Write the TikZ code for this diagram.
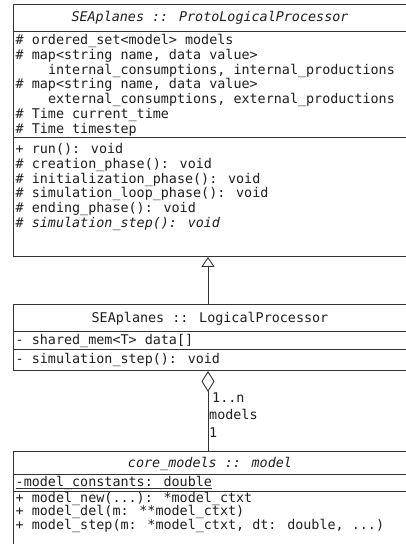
\documentclass[tikz,border=0pt]{standalone}
\usepackage{fontspec}
\newfontfamily\umlfont{DejaVu Sans Mono}
\usetikzlibrary{arrows.meta}
\begin{document}
\begin{tikzpicture}[x=1pt,y=-1pt,
  txt/.style={font={\umlfont\fontsize{13.4}{15}\selectfont}, anchor=base west, inner sep=0pt, text=black!88},
  ttl/.style={txt, anchor=base},
  box/.style={draw=black!80, line width=0.9pt, fill=white, anchor=north west, inner sep=0pt},
  sepline/.style={draw=black!80, line width=0.9pt},
  conn/.style={draw=black!80, line width=0.9pt}]
\useasboundingbox (0,0) rectangle (406,544);
\clip (0,0) rectangle (406,544);
\fill[white] (0,0) rectangle (406,544);

% ---------- ProtoLogicalProcessor ----------
\node[box, minimum width=400pt, minimum height=252pt] (proto) at (13,4) {};
\draw[sepline] (13,31) -- (413,31);
\draw[sepline] (13,137.5) -- (413,137.5);
\node[ttl] (pt) at (210,21.5) {\itshape SEAplanes :: ProtoLogicalProcessor};
\node[txt] (pa1) at (15.5,44.5) {\# ordered\_set<model> models};
\node[txt] (pa2) at (15.5,59.3) {\# map<string name, data value>};
\node[txt] (pa3) at (47.8,74.1) {internal\_consumptions, internal\_productions};
\node[txt] (pa4) at (15.5,88.9) {\# map<string name, data value>};
\node[txt] (pa5) at (47.8,103.7) {external\_consumptions, external\_productions};
\node[txt] (pa6) at (15.5,118.5) {\# Time current\_time};
\node[txt] (pa7) at (15.5,133.3) {\# Time timestep};
\node[txt] (po1) at (15.5,153.5) {+ run(): void};
\node[txt] (po2) at (15.5,168.3) {\# creation\_phase(): void};
\node[txt] (po3) at (15.5,183.1) {\# initialization\_phase(): void};
\node[txt] (po4) at (15.5,197.9) {\# simulation\_loop\_phase(): void};
\node[txt] (po5) at (15.5,212.7) {\# ending\_phase(): void};
\node[txt] (po6) at (15.5,227.5) {\# \itshape simulation\_step(): void};

% ---------- LogicalProcessor ----------
\node[box, minimum width=400pt, minimum height=66pt] (lp) at (13,304) {};
\draw[sepline] (13,331) -- (413,331);
\draw[sepline] (13,349) -- (413,349);
\node[ttl] (lt) at (210,322.5) {SEAplanes :: LogicalProcessor};
\node[txt] (la1) at (15.5,344.5) {- shared\_mem<T> data[]};
\node[txt] (lo1) at (15.5,363.5) {- simulation\_step(): void};

% ---------- core_models :: model ----------
\node[box, minimum width=400pt, minimum height=120pt] (core) at (13,451) {};
\draw[sepline] (13,474.5) -- (413,474.5);
\draw[sepline] (13,491.5) -- (413,491.5);
\node[ttl] (ct) at (210,467.5) {\itshape core\_models :: model};
\node[txt] (ca1) at (15.5,486) {-model\_constants: double};
\draw[line width=0.7pt, black!80] ([yshift=-2pt]ca1.base west) -- ([yshift=-2pt]ca1.base east);
\node[txt] (co1) at (15.5,502) {+ model\_new(...): *model\_ctxt};
\node[txt] (co2) at (15.5,515.8) {+ model\_del(m: **model\_ctxt)};
\node[txt] (co3) at (15.5,529.6) {+ model\_step(m: *model\_ctxt, dt: double, ...)};

% ---------- connectors ----------
\coordinate (cx) at (208,0);
\draw[conn, -{Triangle[open, length=10pt, width=13pt, fill=white]}] (lp.north -| cx) -- (proto.south -| cx);
\draw[conn, {Diamond[open, length=21pt, width=13pt, fill=white]}-] (lp.south -| cx) -- (core.north -| cx);
\node[txt] (m1) at (212,402) {1..n};
\node[txt] (m2) at (209,419) {models};
\node[txt] (m3) at (209,437) {1};
\end{tikzpicture}
\end{document}
